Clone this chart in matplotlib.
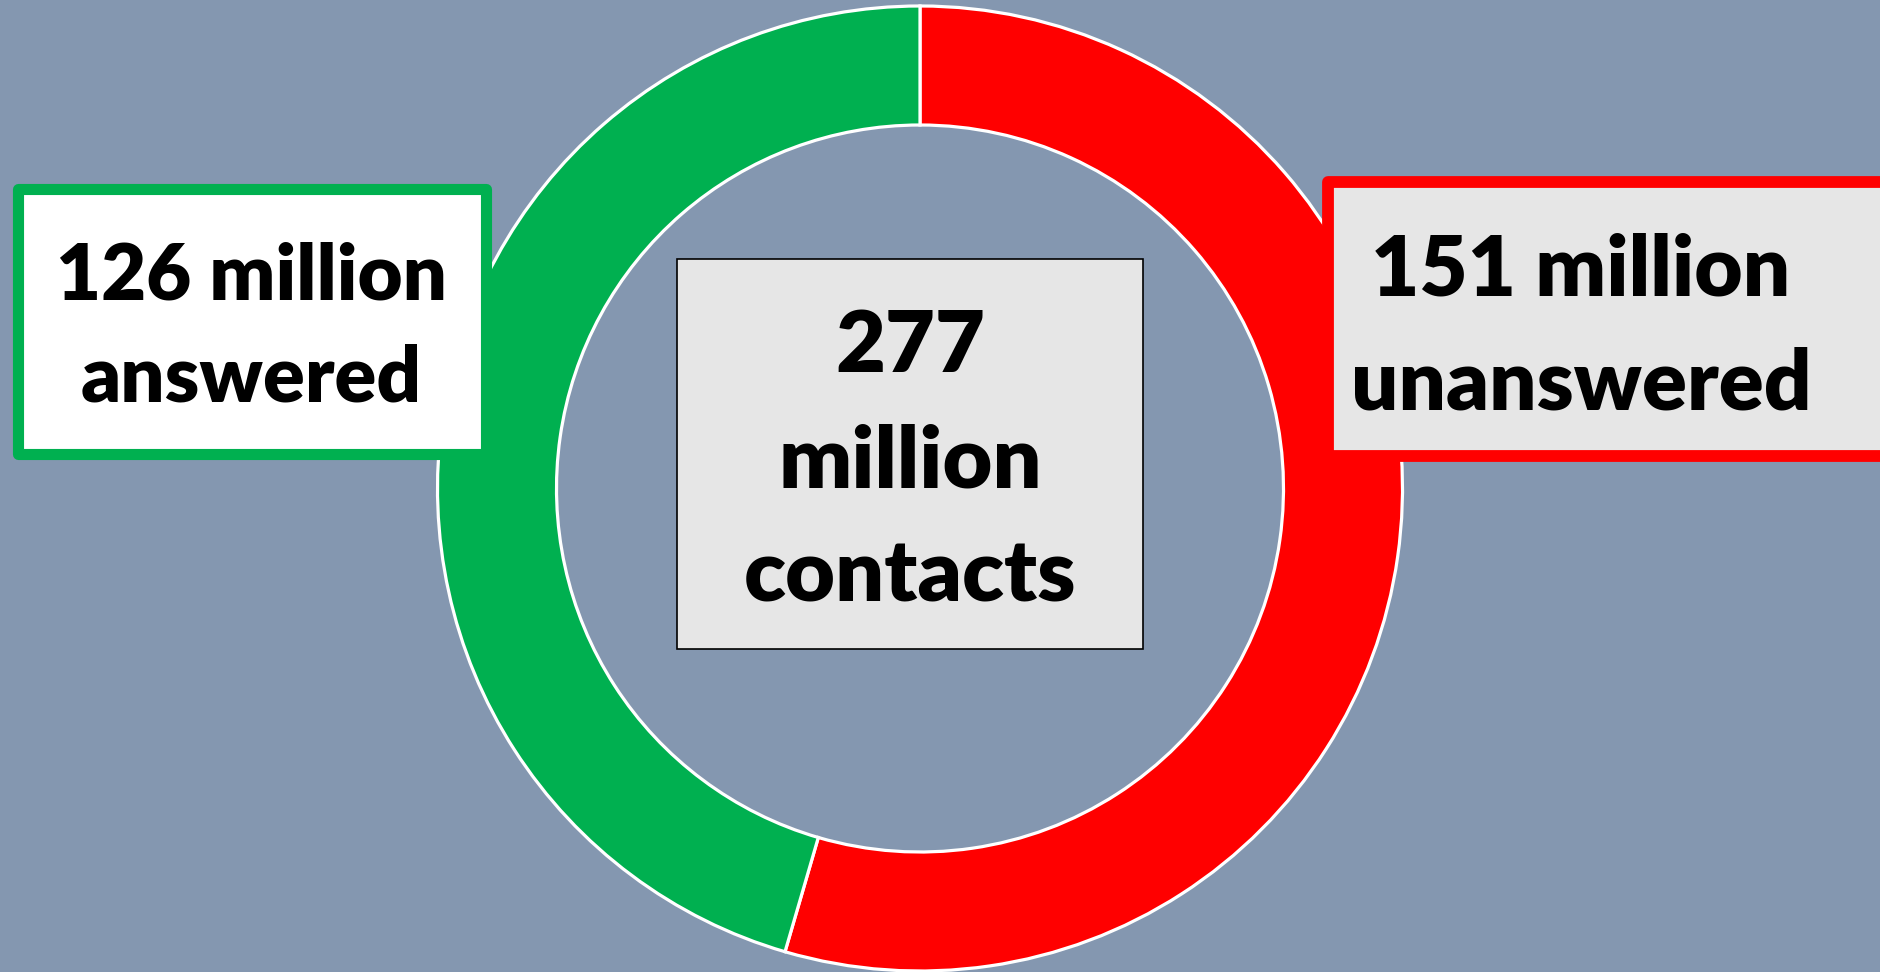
import matplotlib
matplotlib.use("Agg")
import matplotlib.pyplot as plt
from matplotlib.patches import Rectangle

labels = ["unanswered", "answered"]
values = [151, 126]  # million contacts
colors = ["#FF0000", "#00B050"]
total = sum(values)

bg = "#8497B0"
plt.rcParams["font.family"] = ["Lato", "DejaVu Sans"]

fig = plt.figure(figsize=(18.8, 9.72), dpi=100, facecolor=bg)
ax = fig.add_axes([0, 0, 1, 1])
ax.set_facecolor(bg)

ax.pie(values, colors=colors, startangle=90, counterclock=False,
       radius=482.5, center=(920, 483.5), frame=True,
       wedgeprops=dict(width=119, edgecolor="white", linewidth=2.3))

ax.set_xlim(0, 1880)
ax.set_ylim(0, 972)
ax.set_aspect("equal")
ax.set_axis_off()

# label boxes
ax.add_patch(Rectangle((17.5, 517.5), 468, 265, facecolor="white",
                       edgecolor=colors[1], linewidth=8, zorder=5,
                       joinstyle="round"))
ax.add_patch(Rectangle((1327.5, 515.5), 600, 274, facecolor="#E6E6E6",
                       edgecolor=colors[0], linewidth=8.5, zorder=5,
                       joinstyle="round"))
ax.add_patch(Rectangle((677, 323), 466, 390, facecolor="#E6E6E6",
                       edgecolor="black", linewidth=1.2, zorder=5))

txt = dict(ha="center", va="baseline", fontweight="heavy", color="black", zorder=6)
ax.text(251.5, 972 - 300, f"{values[1]} million", fontsize=56, **txt)
ax.text(251.5, 972 - 402, labels[1], fontsize=56, **txt)
ax.text(1581, 972 - 295, f"{values[0]} million", fontsize=60, **txt)
ax.text(1581, 972 - 409, labels[0], fontsize=60, **txt)
ax.text(910, 972 - 372, f"{total}", fontsize=62, **txt)
ax.text(910, 972 - 487, "million", fontsize=62, **txt)
ax.text(910, 972 - 602, "contacts", fontsize=62, **txt)

fig.savefig("out.png", dpi=100, facecolor=bg)
